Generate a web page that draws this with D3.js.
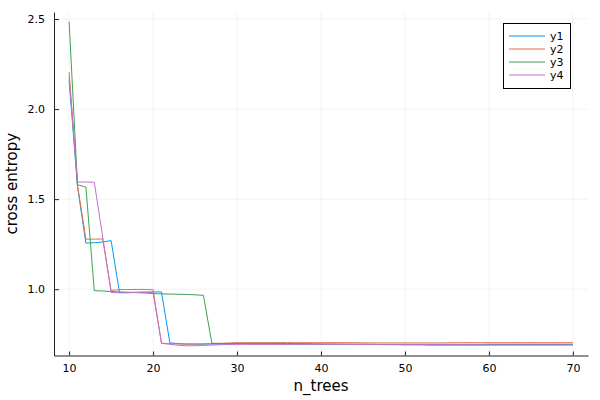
<!DOCTYPE html>
<html>
<head>
<meta charset="utf-8">
<script src="https://cdn.jsdelivr.net/npm/d3@7"></script>
<style>
  body { margin: 0; background: #fff; }
  text { font-family: "DejaVu Sans", sans-serif; fill: #000; }
</style>
</head>
<body>
<script>
var width = 600;
var height = 400;

// n_trees 10..70
var nTrees = d3.range(10, 71);

var y1 = [
  2.16, 1.57, 1.256, 1.258, 1.262, 1.27, 0.982, 0.982, 0.983, 0.984,
  0.985, 0.985, 0.702, 0.698, 0.696, 0.695, 0.695, 0.696, 0.696, 0.697,
  0.697, 0.697, 0.696, 0.696, 0.696, 0.696, 0.695, 0.695, 0.695, 0.695,
  0.694, 0.694, 0.694, 0.694, 0.694, 0.694, 0.694, 0.693, 0.693, 0.693,
  0.693, 0.693, 0.693, 0.692, 0.692, 0.692, 0.692, 0.692, 0.692, 0.692,
  0.693, 0.693, 0.693, 0.693, 0.693, 0.693, 0.693, 0.693, 0.693, 0.693,
  0.693
];
var y2 = [
  2.205, 1.577, 1.278, 1.278, 1.279, 0.993, 0.998, 0.998, 0.999, 0.999,
  0.997, 0.700, 0.698, 0.696, 0.695, 0.696, 0.697, 0.698, 0.699, 0.701,
  0.703, 0.703, 0.703, 0.703, 0.703, 0.703, 0.703, 0.703, 0.703, 0.703,
  0.703, 0.703, 0.703, 0.703, 0.703, 0.702, 0.702, 0.702, 0.702, 0.702,
  0.702, 0.702, 0.702, 0.702, 0.702, 0.702, 0.703, 0.703, 0.703, 0.703,
  0.703, 0.703, 0.703, 0.703, 0.703, 0.703, 0.703, 0.703, 0.703, 0.703,
  0.703
];
var y3 = [
  2.485, 1.58, 1.567, 0.992, 0.99, 0.987, 0.985, 0.983, 0.981, 0.979,
  0.976, 0.974, 0.973, 0.972, 0.971, 0.969, 0.966, 0.700, 0.699, 0.699,
  0.699, 0.699, 0.699, 0.699, 0.699, 0.699, 0.699, 0.698, 0.698, 0.697,
  0.696, 0.696, 0.695, 0.695, 0.694, 0.694, 0.693, 0.693, 0.692, 0.692,
  0.691, 0.691, 0.691, 0.690, 0.690, 0.690, 0.690, 0.690, 0.690, 0.690,
  0.690, 0.690, 0.690, 0.690, 0.690, 0.690, 0.690, 0.690, 0.690, 0.690,
  0.690
];
var y4 = [
  2.18, 1.595, 1.595, 1.594, 1.29, 0.982, 0.98, 0.98, 0.982, 0.983,
  0.981, 0.700, 0.694, 0.689, 0.686, 0.686, 0.688, 0.690, 0.692, 0.693,
  0.694, 0.694, 0.694, 0.694, 0.694, 0.694, 0.694, 0.694, 0.694, 0.694,
  0.694, 0.694, 0.694, 0.694, 0.694, 0.694, 0.694, 0.694, 0.694, 0.694,
  0.694, 0.694, 0.694, 0.694, 0.694, 0.694, 0.694, 0.694, 0.694, 0.694,
  0.695, 0.695, 0.695, 0.695, 0.695, 0.695, 0.695, 0.695, 0.695, 0.695,
  0.695
];

var seriesNames = ["y1", "y2", "y3", "y4"];
var seriesValues = [y1, y2, y3, y4];
var colors = ["#009af9", "#e26f46", "#3da44d", "#c271d2"];
var xTicks = [10, 20, 30, 40, 50, 60, 70];
var yTicks = [1.0, 1.5, 2.0, 2.5];

var plotLeft = 54, plotRight = 588, plotTop = 12, plotBottom = 355.5;

var svg = d3.select("body").append("svg")
  .attr("width", width)
  .attr("height", height);

// Plots.jl pads the data extent by 3% each side
var allY = d3.merge(seriesValues);
var yMin = d3.min(allY), yMax = d3.max(allY);
var yPad = (yMax - yMin) * 0.03;
var x = d3.scaleLinear().domain([10 - 1.8, 70 + 1.8]).range([plotLeft, plotRight]);
var y = d3.scaleLinear().domain([yMin - yPad, yMax + yPad]).range([plotBottom, plotTop]);

// grid
svg.append("g").selectAll("line").data(xTicks).join("line")
  .attr("x1", d => x(d)).attr("x2", d => x(d))
  .attr("y1", plotTop).attr("y2", plotBottom)
  .attr("stroke", "#000").attr("stroke-opacity", 0.1).attr("stroke-width", 0.5);
svg.append("g").selectAll("line").data(yTicks).join("line")
  .attr("x1", plotLeft).attr("x2", plotRight)
  .attr("y1", d => y(d)).attr("y2", d => y(d))
  .attr("stroke", "#000").attr("stroke-opacity", 0.1).attr("stroke-width", 0.5);

// axes (ticks point inward)
var xAxis = svg.append("g")
  .attr("transform", "translate(0," + plotBottom + ")")
  .call(d3.axisBottom(x).tickValues(xTicks).tickFormat(d3.format("d")).tickSizeInner(-4).tickSizeOuter(0).tickPadding(9));
var yAxis = svg.append("g")
  .attr("transform", "translate(" + plotLeft + ",0)")
  .call(d3.axisLeft(y).tickValues(yTicks).tickFormat(d3.format(".1f")).tickSizeInner(-5).tickSizeOuter(0).tickPadding(9));

[xAxis, yAxis].forEach(function(a) {
  a.select(".domain").attr("stroke", "#222").attr("stroke-width", 1);
  a.selectAll(".tick line").attr("stroke", "#222");
  a.selectAll(".tick text").style("font-family", "DejaVu Sans, sans-serif").style("font-size", "11px").attr("fill", "#222");
});

// lines
var line = d3.line()
  .x((d, i) => x(nTrees[i]))
  .y(d => y(d));

svg.append("g").selectAll("path").data(seriesValues).join("path")
  .attr("d", line)
  .attr("fill", "none")
  .attr("stroke", (d, i) => colors[i])
  .attr("stroke-width", 1);

// axis labels
svg.append("text")
  .attr("x", (plotLeft + plotRight) / 2)
  .attr("y", 391)
  .attr("text-anchor", "middle")
  .style("font-size", "15px")
  .text("n_trees");

svg.append("text")
  .attr("transform", "translate(17," + ((plotTop + plotBottom) / 2) + ") rotate(-90)")
  .attr("text-anchor", "middle")
  .style("font-size", "15px")
  .text("cross entropy");

// legend
var legend = svg.append("g");
legend.append("rect")
  .attr("x", 503.5).attr("y", 23.5)
  .attr("width", 67).attr("height", 65)
  .attr("fill", "#fff").attr("stroke", "#000").attr("stroke-width", 1);

var items = legend.selectAll("g").data(seriesNames).join("g")
  .attr("transform", (d, i) => "translate(0," + (36 + i * 13) + ")");
items.append("line")
  .attr("x1", 509).attr("x2", 545)
  .attr("stroke", (d, i) => colors[i]).attr("stroke-width", 1);
items.append("text")
  .attr("x", 550).attr("y", 4)
  .style("font-size", "11px")
  .text(d => d);
</script>
</body>
</html>
